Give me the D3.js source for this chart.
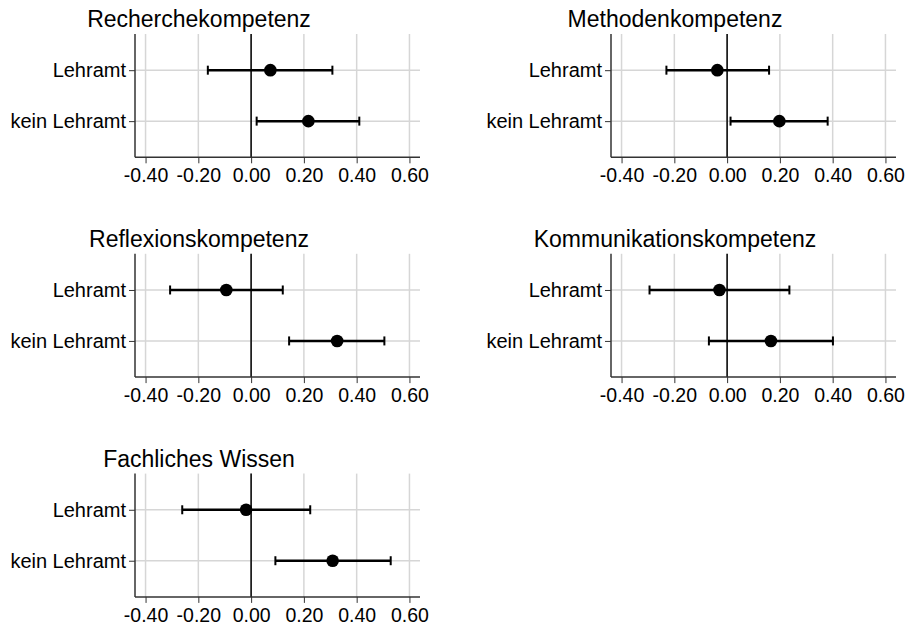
<!DOCTYPE html>
<html lang="en">
<head>
    <meta charset="UTF-8">
    <title>Kompetenzen Lehramt vs. kein Lehramt</title>
    <script src="https://d3js.org/d3.v7.min.js"></script>
    <style>
        body {
            margin: 0;
            background-color: white;
            font-family: "Liberation Sans", Arial, sans-serif;
        }
        .grid line {
            stroke: #d6d6d6;
            stroke-width: 1.5;
        }
    </style>
</head>
<body>
    <svg id="chart" width="908" height="628"></svg>

    <script>
        // Data
        const panelTitles = ["Recherchekompetenz", "Methodenkompetenz", "Reflexionskompetenz",
                             "Kommunikationskompetenz", "Fachliches Wissen"];
        const groups = ["Lehramt", "kein Lehramt"];
        const estimates = [[0.073, 0.217], [-0.037, 0.198], [-0.094, 0.326], [-0.029, 0.166], [-0.019, 0.309]];
        const lowerCI  = [[-0.164, 0.021], [-0.230, 0.013], [-0.307, 0.144], [-0.294, -0.069], [-0.261, 0.092]];
        const upperCI  = [[0.308, 0.410], [0.159, 0.381], [0.120, 0.505], [0.236, 0.401], [0.224, 0.529]];
        const tickValues = [-0.4, -0.2, 0, 0.2, 0.4, 0.6];

        const svg = d3.select("#chart");

        // Panel geometry
        const colStep = 476;
        const rowStep = 219.8;
        const plotLeft = 135, plotRight = 420, plotTop = 34, plotBottom = 157.3;

        const x = d3.scaleLinear()
            .domain([-0.44, 0.64])
            .range([plotLeft, plotRight]);

        const y = d3.scalePoint()
            .domain(groups)
            .range([plotTop, plotBottom])
            .padding(0.71);

        panelTitles.forEach((title, i) => {
            const col = i % 2;
            const row = Math.floor(i / 2);
            const g = svg.append("g")
                .attr("transform", `translate(${col * colStep}, ${row * rowStep})`);

            // Grid lines
            const grid = g.append("g").attr("class", "grid");
            grid.selectAll(".vgrid")
                .data(tickValues)
                .enter()
                .append("line")
                .attr("x1", d => x(d))
                .attr("x2", d => x(d))
                .attr("y1", plotTop)
                .attr("y2", plotBottom);
            grid.selectAll(".hgrid")
                .data(groups)
                .enter()
                .append("line")
                .attr("x1", plotLeft)
                .attr("x2", plotRight)
                .attr("y1", d => y(d))
                .attr("y2", d => y(d));

            // Zero reference line
            g.append("line")
                .attr("x1", x(0))
                .attr("x2", x(0))
                .attr("y1", plotTop)
                .attr("y2", plotBottom)
                .style("stroke", "#000")
                .style("stroke-width", 1.5);

            // Axes
            const xAxis = g.append("g")
                .attr("transform", `translate(0, ${plotBottom})`)
                .call(d3.axisBottom(x)
                    .tickValues(tickValues)
                    .tickFormat(d3.format(".2f"))
                    .tickSizeOuter(0)
                    .tickSize(6)
                    .tickPadding(5));
            xAxis.select(".domain").attr("d", `M${plotLeft},0H${plotRight}`);

            const yAxis = g.append("g")
                .attr("transform", `translate(${plotLeft}, 0)`)
                .call(d3.axisLeft(y)
                    .tickSizeOuter(0)
                    .tickSize(6)
                    .tickPadding(3));
            yAxis.select(".domain").attr("d", `M0,${plotTop}V${plotBottom}`);

            [xAxis, yAxis].forEach(ax => {
                ax.select(".domain").style("stroke", "#333").style("stroke-width", 1.5);
                ax.selectAll(".tick line").style("stroke", "#333").style("stroke-width", 1);
                ax.selectAll(".tick text")
                    .style("font-family", "'Liberation Sans', Arial, sans-serif")
                    .style("fill", "#000");
            });
            xAxis.selectAll(".tick text")
                .style("font-size", "19.5px")
                .text(d => d3.format(".2f")(d).replace("−", "-"));
            yAxis.selectAll(".tick text").style("font-size", "20px");

            // Error bars
            const rows = groups.map((grp, j) => ({
                group: grp, est: estimates[i][j], lo: lowerCI[i][j], hi: upperCI[i][j]
            }));

            const bars = g.selectAll(".bar")
                .data(rows)
                .enter()
                .append("g");

            bars.append("line")
                .attr("x1", d => x(d.lo))
                .attr("x2", d => x(d.hi))
                .attr("y1", d => y(d.group))
                .attr("y2", d => y(d.group))
                .style("stroke", "#000")
                .style("stroke-width", 2.5);

            ["lo", "hi"].forEach(k => {
                bars.append("line")
                    .attr("x1", d => x(d[k]))
                    .attr("x2", d => x(d[k]))
                    .attr("y1", d => y(d.group) - 4.5)
                    .attr("y2", d => y(d.group) + 4.5)
                    .style("stroke", "#000")
                    .style("stroke-width", 2);
            });

            bars.append("circle")
                .attr("cx", d => x(d.est))
                .attr("cy", d => y(d.group))
                .attr("r", 6.3)
                .style("fill", "#000");

            // Title
            g.append("text")
                .attr("x", 199)
                .attr("y", 27)
                .attr("text-anchor", "middle")
                .style("font-size", "23px")
                .style("fill", "#000")
                .text(title);
        });
    </script>
</body>
</html>
